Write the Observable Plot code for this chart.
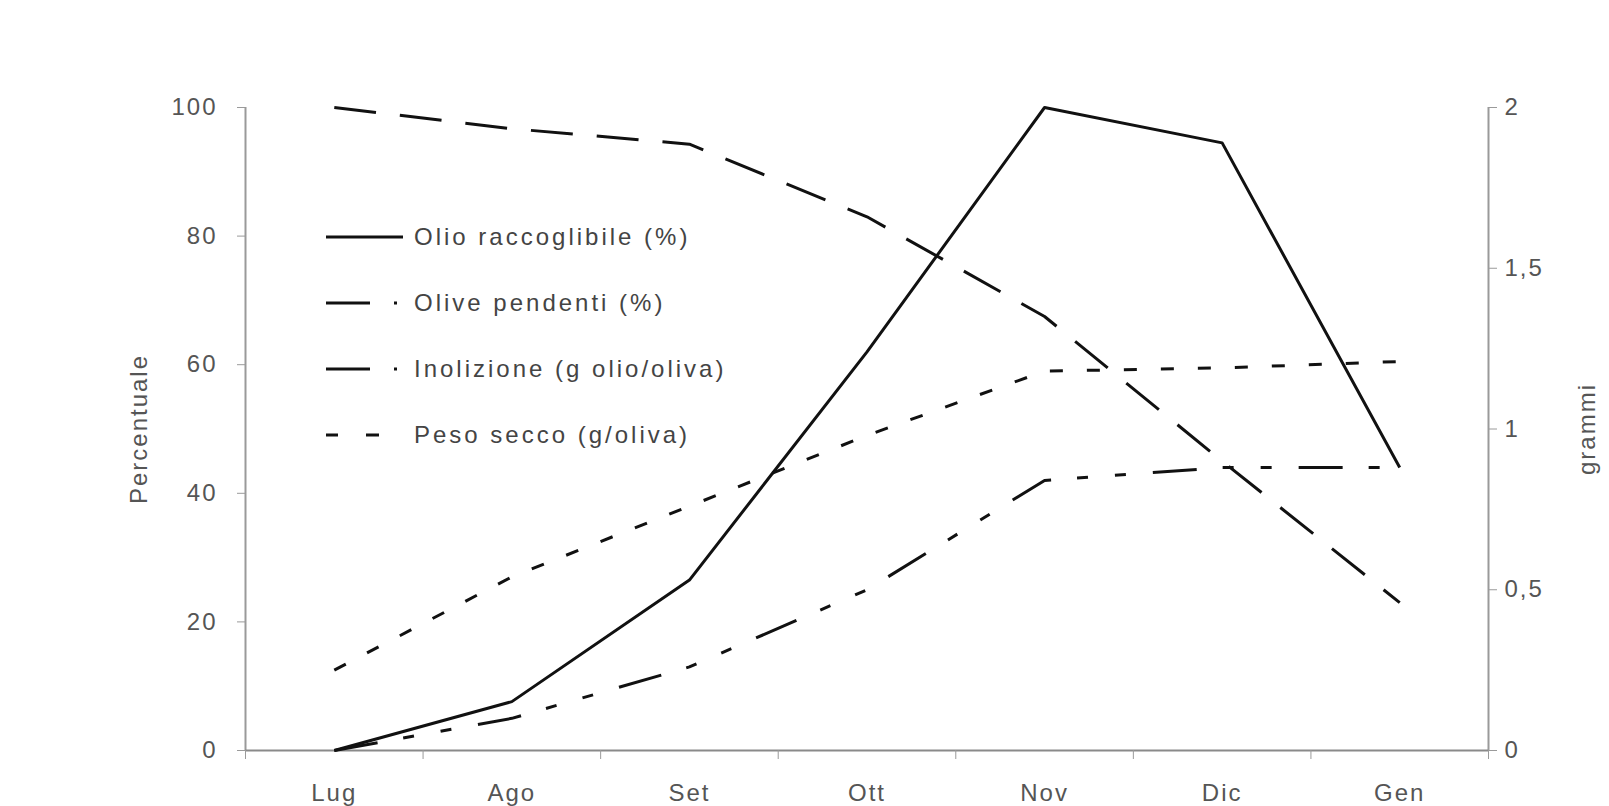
<!DOCTYPE html>
<html>
<head>
<meta charset="utf-8">
<script src="https://cdn.jsdelivr.net/npm/d3@7"></script>
<script src="https://cdn.jsdelivr.net/npm/@observablehq/plot@0.6"></script>
<style>
  html, body { margin: 0; padding: 0; background: #fff; }
  #wrap { position: relative; width: 1609px; height: 806px; font-family: "Liberation Sans", Arial, sans-serif; }
  #wrap svg text { letter-spacing: 2px; }
  #legend { position: absolute; left: 326px; top: 204px; }
  .row { display: flex; align-items: center; height: 66px; }
  .row span { font-size: 24px; letter-spacing: 3px; color: #444; margin-left: 8px; }
</style>
</head>
<body>
<div id="wrap"></div>
<script>
// --- data ---
const months = ["Lug", "Ago", "Set", "Ott", "Nov", "Dic", "Gen"];
const olioRaccoglibile = [0, 7.6, 26.5, 62, 100, 94.5, 44];        // %
const olivePendenti = [100, 96.7, 94.3, 83, 67.5, 45, 23];          // %
const inolizione = [0, 0.1, 0.26, 0.5, 0.84, 0.88, 0.88];          // g olio/oliva
const pesoSecco = [0.25, 0.54, 0.76, 0.98, 1.18, 1.19, 1.21];      // g/oliva
const percentTicks = [0, 20, 40, 60, 80, 100];
const grammiTicks = [0, 0.5, 1, 1.5, 2];
const grammiMax = 2;

const series = [
  {name: "Olio raccoglibile (%)", values: olioRaccoglibile, unit: "pct", dash: null, legendDash: null},
  {name: "Olive pendenti (%)", values: olivePendenti, unit: "pct", dash: "42 24", legendDash: "44 24 3 30"},
  {name: "Inolizione (g olio/oliva)", values: inolizione, unit: "g", dash: "44 26 11 27 11 27", legendDash: "44 24 3 30"},
  {name: "Peso secco (g/oliva)", values: pesoSecco, unit: "g", dash: "13 24", legendDash: "12 28 13 40"}
];

const idx = months.map((_, i) => i);
const bounds = [-0.5, ...idx.map(i => i + 0.5)];
const toPct = g => g / grammiMax * 100;
const fmtComma = v => String(v).replace(".", ",");

const lineMarks = series.map(s => Plot.line(
  idx.map(i => ({i, v: s.unit === "g" ? toPct(s.values[i]) : s.values[i]})),
  {x: "i", y: "v", stroke: "#111", strokeWidth: 3, strokeDasharray: s.dash, strokeLinejoin: "round", strokeLinecap: "butt"}
));

const chart = Plot.plot({
  width: 1609,
  height: 806,
  marginLeft: 245,
  marginRight: 121,
  marginTop: 107,
  marginBottom: 56,
  style: {fontFamily: "'Liberation Sans', Arial, sans-serif", background: "#fff", color: "#444"},
  x: {type: "linear", domain: [-0.5, months.length - 0.5]},
  y: {domain: [0, 100]},
  marks: [
    Plot.ruleX([-0.5, months.length - 0.5], {y1: 0, y2: 100, stroke: "#9a9a9a", strokeWidth: 2}),
    Plot.ruleY([0], {stroke: "#8a8a8a", strokeWidth: 2}),
    Plot.axisY(percentTicks, {
      anchor: "left", tickSize: 8, tickPadding: 20, fontSize: 24, stroke: "#9a9a9a", fill: "#555",
      label: "Percentuale", labelAnchor: "center", labelOffset: 116, labelArrow: "none"
    }),
    Plot.axisY(grammiTicks.map(toPct), {
      anchor: "right", tickSize: 8, tickPadding: 8, fontSize: 24, stroke: "#9a9a9a", fill: "#555",
      tickFormat: d => fmtComma(d / 100 * grammiMax),
      label: "grammi", labelAnchor: "center", labelOffset: 106, labelArrow: "none"
    }),
    Plot.axisX(bounds, {anchor: "bottom", tickSize: 9, stroke: "#9a9a9a", tickFormat: () => "", label: null}),
    Plot.axisX(idx, {anchor: "bottom", tickSize: 0, tickPadding: 33, fontSize: 24, fill: "#555",
      tickFormat: i => months[i], label: null}),
    ...lineMarks
  ]
});

const wrap = document.getElementById("wrap");
wrap.appendChild(chart);

// legend placed inside the plot area
const legend = document.createElement("div");
legend.id = "legend";
for (const s of series) {
  const row = document.createElement("div");
  row.className = "row";
  const svg = d3.create("svg").attr("width", 80).attr("height", 10);
  svg.append("line").attr("x1", 0).attr("x2", 77).attr("y1", 5).attr("y2", 5)
    .attr("stroke", "#111").attr("stroke-width", 3)
    .attr("stroke-dasharray", s.legendDash);
  row.appendChild(svg.node());
  const span = document.createElement("span");
  span.textContent = s.name;
  row.appendChild(span);
  legend.appendChild(row);
}
wrap.appendChild(legend);
</script>
</body>
</html>
